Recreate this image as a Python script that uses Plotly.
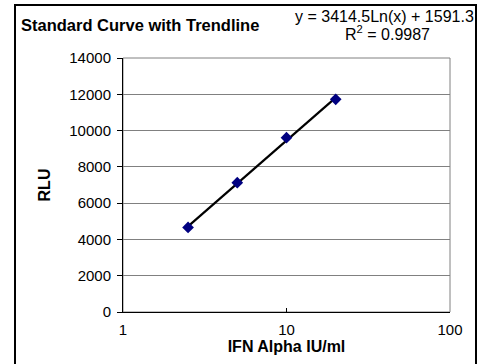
import numpy as np
import plotly.graph_objects as go

# Data
concentration = [2.5, 5, 10, 20]          # IFN Alpha IU/ml
rlu = [4660, 7130, 9610, 11720]            # RLU
trend_slope = 3414.5
trend_intercept = 1591.3
r_squared = 0.9987
y_ticks = [0, 2000, 4000, 6000, 8000, 10000, 12000, 14000]
x_ticks = [1, 10, 100]

trend_y = [trend_slope * np.log(x) + trend_intercept for x in concentration]

FONT = "Liberation Sans, Arial, sans-serif"
FW, FH = 484, 364
L, R, T, B = 123, 450, 58, 312
# chart-area frame (pixels): left, right, top edges
FRAME_L, FRAME_R, FRAME_T = 15, 476, 5


def px(x):
    return x / FW


def py(y):
    return (FH - y) / FH


fig = go.Figure()
fig.add_trace(go.Scatter(
    x=concentration, y=trend_y, mode="lines",
    line=dict(color="black", width=2.2),
    showlegend=False))
fig.add_trace(go.Scatter(
    x=concentration, y=rlu, mode="markers",
    marker=dict(symbol="diamond", size=9, color="#000080",
                line=dict(width=0)),
    showlegend=False))
# outer chart frame on a full-figure overlay axis pair (pixel units)
fig.add_trace(go.Scatter(
    x=[FRAME_L, FRAME_L, FRAME_R, FRAME_R],
    y=[FH - 1, FRAME_T, FRAME_T, FH - 1],
    xaxis="x2", yaxis="y2", mode="lines",
    line=dict(color="black", width=2),
    hoverinfo="skip", showlegend=False))

frame = dict(color="black", width=2)
fig.update_layout(
    width=FW, height=FH,
    margin=dict(l=0, r=0, t=0, b=0),
    paper_bgcolor="white", plot_bgcolor="rgba(0,0,0,0)",
    font=dict(family=FONT, size=15, color="black"),
    xaxis2=dict(domain=[0, 1], range=[0, FW], showgrid=False,
                zeroline=False, showline=False, showticklabels=False,
                ticks="", anchor="y2", fixedrange=True, automargin=False),
    yaxis2=dict(domain=[0, 1], range=[FH, 0], showgrid=False,
                zeroline=False, showline=False, showticklabels=False,
                ticks="", anchor="x2", fixedrange=True, automargin=False),
    xaxis=dict(type="log", range=[0, 2], tickvals=x_ticks,
               domain=[px(L), px(R)],
               ticktext=[str(v) for v in x_ticks],
               showgrid=False, zeroline=False, automargin=False,
               showline=True, linecolor="black", linewidth=1,
               ticks="inside", ticklen=4, tickcolor="black",
               tickfont=dict(size=15), ticklabelstandoff=4,
               title=dict(text="<b>IFN Alpha IU/ml</b>", font=dict(size=16),
                          standoff=0)),
    yaxis=dict(range=[0, 14000], tickvals=y_ticks,
               domain=[py(B), py(T)],
               ticktext=[str(v) for v in y_ticks],
               showgrid=True, gridcolor="#808080", gridwidth=1,
               zeroline=False, automargin=False,
               showline=True, linecolor="black", linewidth=1,
               ticks="outside", ticklen=5, tickcolor="black",
               tickfont=dict(size=15), ticklabelstandoff=3,
               title=dict(text="<b>RLU</b>", font=dict(size=16),
                          standoff=14)),
    shapes=[
        dict(type="rect", xref="x domain", yref="y domain",
             x0=0, x1=1, y0=0, y1=1,
             line=dict(color="#808080", width=1), layer="below"),
        # frame again via overlay-axis shapes (same pixel positions)
        dict(type="line", xref="x2", yref="y2",
             x0=FRAME_L, x1=FRAME_L, y0=FH, y1=FRAME_T, line=frame),
        dict(type="line", xref="x2", yref="y2",
             x0=FRAME_L, x1=FRAME_R, y0=FRAME_T, y1=FRAME_T, line=frame),
        dict(type="line", xref="x2", yref="y2",
             x0=FRAME_R, x1=FRAME_R, y0=FH, y1=FRAME_T, line=frame),
    ],
    annotations=[
        dict(text="<b>Standard Curve with Trendline</b>",
             xref="paper", yref="paper",
             x=px(19), y=py(25),
             xanchor="left", yanchor="middle", showarrow=False,
             font=dict(size=16.5)),
        dict(text="y = %.1fLn(x) + %.1f" % (trend_slope, trend_intercept),
             xref="paper", yref="paper",
             x=px(384), y=py(17),
             xanchor="center", yanchor="middle", showarrow=False,
             font=dict(size=16)),
        dict(text="R<sup>2</sup> = %.4f" % r_squared,
             xref="paper", yref="paper",
             x=px(387), y=py(33),
             xanchor="center", yanchor="middle", showarrow=False,
             font=dict(size=16)),
    ],
)

fig.write_html("out.html",
               config={"displayModeBar": False},
               post_script="document.body.style.margin='0';"
                           "document.body.style.overflow='hidden';")
